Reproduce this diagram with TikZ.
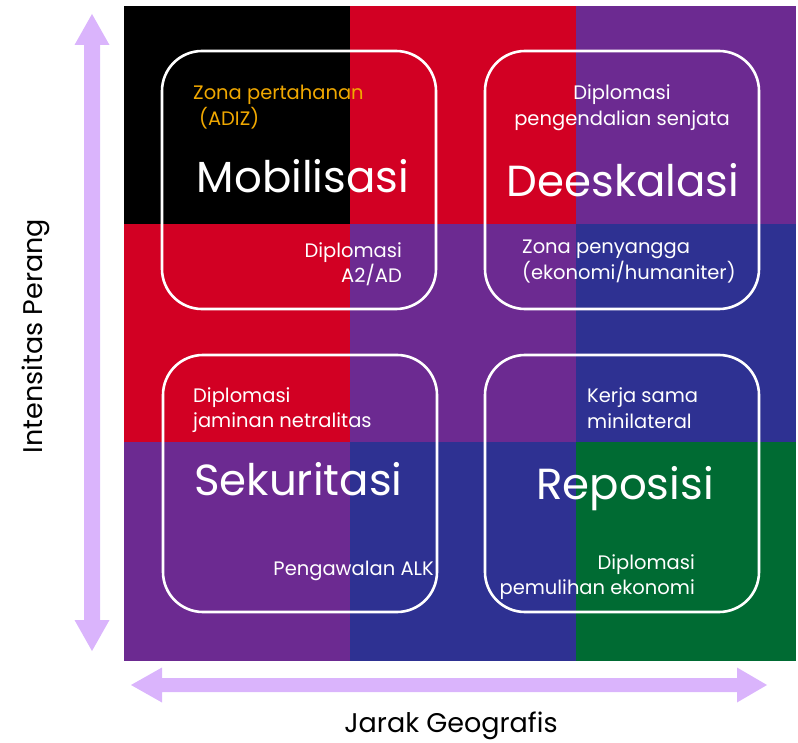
\documentclass[tikz,border=0pt]{standalone}
\usepackage{fontspec}
\setmainfont{Poppins}
\definecolor{cred}{HTML}{D20023}
\definecolor{cpurple}{HTML}{6C2A91}
\definecolor{cblue}{HTML}{2E3192}
\definecolor{cgreen}{HTML}{006B33}
\definecolor{corange}{HTML}{F0A800}
\definecolor{carrow}{HTML}{DAB4FC}
\begin{document}
\begin{tikzpicture}[x=1pt,y=-1pt,
  small/.style={font=\fontsize{19.5}{19.5}\selectfont, text=white, inner sep=0pt},
  big/.style={font=\fontsize{43.5}{43.5}\selectfont, text=white, inner sep=0pt},
  axis/.style={font=\fontsize{27}{27}\selectfont, text=black, inner sep=0pt},
  qbox/.style={draw=white, line width=2.6pt, rounded corners=40pt}]
\useasboundingbox (0,0) rectangle (798,743);
% grid
\fill[black]   (124,6) rectangle (350,224);
\fill[cred]    (350,6) rectangle (576,224);
\fill[cpurple] (576,6) rectangle (796,224);
\fill[cred]    (124,224) rectangle (350,442);
\fill[cpurple] (350,224) rectangle (576,442);
\fill[cblue]   (576,224) rectangle (796,442);
\fill[cpurple] (124,442) rectangle (350,661);
\fill[cblue]   (350,442) rectangle (576,661);
\fill[cgreen]  (576,442) rectangle (796,661);
% arrows
\fill[carrow] (92,14) -- (109.5,45) -- (100,45) -- (100,620) -- (109.5,620) -- (92,651)
  -- (74.5,620) -- (84,620) -- (84,45) -- (74.5,45) -- cycle;
\fill[carrow] (131,685) -- (162,667.5) -- (162,678) -- (737,678) -- (737,667.5) -- (767,685)
  -- (737,702.5) -- (737,692) -- (162,692) -- (162,702.5) -- cycle;
% boxes
\draw[qbox] (162,51) rectangle (436,309);
\draw[qbox] (485,51) rectangle (759,309);
\draw[qbox] (163,355) rectangle (437,612);
\draw[qbox] (485,355) rectangle (759,612);
% box 1
\node[small, text=corange, anchor=base west] (z1) at (193,100) {Zona pertahanan};
\node[small, text=corange, anchor=base west] (z2) at (199,126) {(ADIZ)};
\node[big, anchor=base] (mob) at (303,193) {Mobilisasi};
\node[small, anchor=base east] (d1) at (402,258) {Diplomasi};
\node[small, anchor=base east] (d2) at (402,283) {A2/AD};
% box 2
\node[small, anchor=base] (p1) at (622,100) {Diplomasi};
\node[small, anchor=base] (p2) at (622,126) {pengendalian senjata};
\node[big, anchor=base] (dee) at (623,197) {Deeskalasi};
\node[small, anchor=base west] (y1) at (522,254) {Zona penyangga};
\node[small, anchor=base west] (y2) at (522,280) {(ekonomi/humaniter)};
% box 3
\node[small, anchor=base west] (j1) at (193,402) {Diplomasi};
\node[small, anchor=base west] (j2) at (193,427) {jaminan netralitas};
\node[big, anchor=base west] (sek) at (194,495) {Sekuritasi};
\node[small, anchor=base east] (alk) at (434,575) {Pengawalan ALK};
% box 4
\node[small, anchor=base west] (k1) at (587,402) {Kerja sama};
\node[small, anchor=base west] (k2) at (587,428) {minilateral};
\node[big, anchor=base] (rep) at (625,499) {Reposisi};
\node[small, anchor=base east] (e1) at (695,569) {Diplomasi};
\node[small, anchor=base east] (e2) at (695,594) {pemulihan ekonomi};
% axes labels
\node[axis, rotate=90, anchor=base] (yl) at (42,336) {Intensitas Perang};
\node[axis, anchor=base] (xl) at (451,732) {Jarak Geografis};
\end{tikzpicture}
\end{document}
